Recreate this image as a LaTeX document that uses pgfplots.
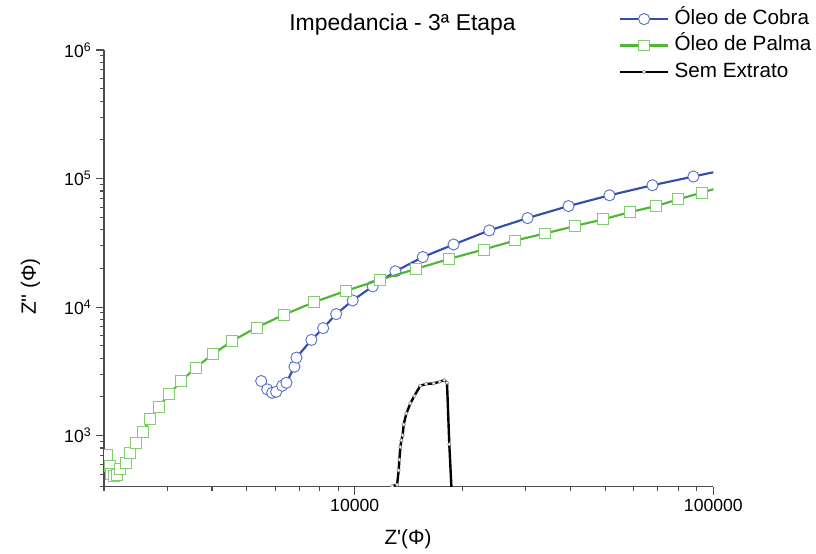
\documentclass[border=0pt]{standalone}
\usepackage{pgfplots}
\pgfplotsset{compat=1.18}
\usepackage{fontspec}
\setmainfont{Liberation Sans}[Ligatures=TeXOff]
\definecolor{cobra}{RGB}{52,78,170}
\definecolor{cobramk}{RGB}{90,115,200}
\definecolor{palma}{RGB}{80,180,55}
\definecolor{palmamk}{RGB}{130,205,110}
\begin{document}
\begin{tikzpicture}
\begin{axis}[
  at={(0,0)}, anchor=south west,
  scale only axis, width=457pt, height=327.5pt,
  xmode=log, ymode=log,
  xmin=2000, xmax=100000, ymin=400, ymax=1000000,
  axis lines*=left,
  axis line style={black!70, line width=0.8pt},
  tick align=outside,
  major tick length=6pt, minor tick length=3pt,
  every tick/.style={black!70, line width=0.8pt},
  xtick={10000,100000}, xticklabels={10000,100000},
  minor xtick={2000,3000,4000,5000,6000,7000,8000,9000,20000,30000,40000,50000,60000,70000,80000,90000},
  ytick={1000,10000,100000,1000000},
  yticklabels={10\textsuperscript{3},10\textsuperscript{4},10\textsuperscript{5},10\textsuperscript{6}},
  minor ytick={400,500,600,700,800,900,2000,3000,4000,5000,6000,7000,8000,9000,20000,30000,40000,50000,60000,70000,80000,90000,200000,300000,400000,500000,600000,700000,800000,900000},
  tick label style={font=\fontsize{13.2}{15}\selectfont},
  clip marker paths=true,
  legend cell align=left,
  legend style={draw=none, fill=none, at={(axis description cs:0.838,1.102)}, anchor=north west,
    font=\fontsize{15.5}{18}\selectfont, row sep=3.8pt, column sep=4pt,
    nodes={inner sep=0pt, text height=12pt, text depth=4pt, anchor=west}},
  legend image code/.code={\draw[mark repeat=2,mark phase=2,#1] plot coordinates {(0pt,0pt) (18pt,0pt) (36pt,0pt)};},
]
\addplot[color=cobra, line width=1.6pt, mark=*, mark size=4.2pt,
  mark options={fill=white, draw=cobramk, line width=0.7pt}] table {
x y
5487 2656
5702 2288
5887 2152
6041 2191
6278 2441
6452 2576
6792 3435
6880 4040
7575 5553
8166 6851
8877 8817
9872 11260
11222 14487
12984 18970
15488 24500
18870 30670
23723 39460
30334 49230
39464 61070
51321 74060
67624 88660
87970 103660
114900 121450
};
\addlegendentry{Óleo de Cobra}
\addplot[color=palma, line width=1.6pt, mark=square*, mark size=4.1pt,
  mark options={fill=white, draw=palmamk, line width=0.7pt}] table {
x y
2043 702
2073 576
2096 505
2131 481
2178 490
2215 552
2297 615
2361 731
2461 875
2568 1067
2685 1341
2844 1673
3033 2091
3284 2656
3600 3374
4023 4294
4555 5454
5324 6926
6342 8706
7721 10940
9482 13410
11793 16340
14826 19810
18356 23710
22870 28030
28030 32960
33980 37390
41010 42630
49190 48080
58610 54830
69120 61070
79890 68910
92840 77730
114900 92250
};
\addlegendentry{Óleo de Palma}
\addplot[color=black, line width=1.8pt, mark=*, mark size=1.3pt,
  mark options={fill=white, draw=black!45, line width=0.4pt}] table {
x y
12712 404
13127 414
13263 536
13321 649
13407 814
13494 919
13607 1005
13695 1219
13932 1486
14296 1778
14666 2039
15241 2441
15808 2517
16600 2548
17251 2623
17779 2704
18088 2576
18356 856
18700 300
};
\addlegendentry{Sem Extrato}
\end{axis}
\node[anchor=base, font=\fontsize{17.2}{20}\selectfont] at (223.9pt,342.5pt) {Impedancia - 3ª Etapa};
\node[anchor=base, font=\fontsize{15.5}{18}\selectfont] at (228pt,-43.7pt) {Z'(Φ)};
\node[anchor=base, rotate=90, font=\fontsize{15.5}{18}\selectfont] at (-51pt,150pt) {Z'' (Φ)};
\pgfresetboundingbox
\path[use as bounding box] (-78pt,-49.725pt) rectangle (534pt,365.025pt);
\end{tikzpicture}
\end{document}
